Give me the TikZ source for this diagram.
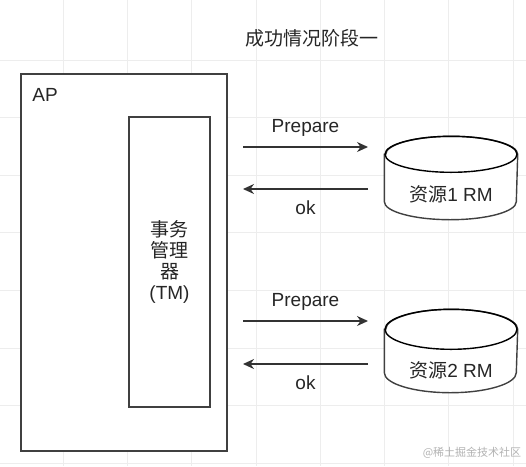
\documentclass[tikz,border=0pt]{standalone}
\usepackage{fontspec}
\setmainfont{Liberation Sans}
\newfontfamily\cjk{Noto Sans CJK SC}
\usetikzlibrary{arrows.meta,positioning}

\begin{document}
\begin{tikzpicture}[x=1pt, y=-1pt, line width=1.4pt,
    every node/.style={font=\fontsize{19}{21}\selectfont, text=black!85},
    box/.style={rectangle, draw=black!75, fill=white, inner sep=0pt},
    dbspace/.style={rectangle, minimum width=132pt, minimum height=82pt, inner sep=0pt},
    drum/.style={draw=black!75, fill=white},
    msg/.style={-{Stealth[length=11pt,width=10pt]}, black!80}]

   \useasboundingbox (0,0) rectangle (526,466);
   % faint canvas grid
   \foreach \gx in {63,127.3,...,514} \draw[black!7, line width=0.8pt] (\gx,0) -- (\gx,466);
   \foreach \gy in {60,117.6,...,464} \draw[black!7, line width=0.8pt] (0,\gy) -- (526,\gy);

   \node (title) at (312,38) {\cjk 成功情况阶段一};

   \node[box, minimum width=206pt, minimum height=377pt] (ap) at (124,262.5) {};
   \node[anchor=north west] (ap_name) at ([shift={(8,11)}]ap.north west) {AP};
   \node[box, minimum width=81pt, minimum height=290pt, align=center] (tm) at (169.5,262)
        {{\cjk 事务}\\{\cjk 管理}\\{\cjk 器}\\(TM)};

   % resource managers as drums
   \node[dbspace] (rm1) at (451,178) {};
   \node[dbspace] (rm2) at (451,351) {};
   \foreach \db/\ry in {rm1/18, rm2/20} {
     \filldraw[drum] ([yshift=-\ry pt]\db.north west) -- ([yshift=\ry pt]\db.south west)
        arc[start angle=180, end angle=360, x radius=66pt, y radius=\ry pt]
        -- ([yshift=-\ry pt]\db.north east)
        arc[start angle=0, end angle=180, x radius=66pt, y radius=\ry pt] -- cycle;
     \draw ([yshift=-\ry pt]\db.north) ellipse [x radius=66pt, y radius=\ry pt];
   }
   \node (rm1_text) at ([yshift=25pt]rm1.south) {{\cjk 资源}1 RM};
   \node (rm2_text) at ([yshift=22pt]rm2.south) {{\cjk 资源}2 RM};

   \coordinate (prep1_from) at (243,147);
   \coordinate (prep1_to)   at (368,147);
   \coordinate (ok1_from)   at (368,189);
   \coordinate (ok1_to)     at (243,189);
   \coordinate (prep2_from) at (243,321);
   \coordinate (prep2_to)   at (368,321);
   \coordinate (ok2_from)   at (368,364);
   \coordinate (ok2_to)     at (243,364);

   % messages between TM and the RMs
   \path[msg]
    (prep1_from) edge node[above=7pt] {Prepare} (prep1_to)
    (ok1_from)   edge node[below=8pt] {ok} (ok1_to)
    (prep2_from) edge node[above=7pt] {Prepare} (prep2_to)
    (ok2_from)   edge node[below=8pt] {ok} (ok2_to);

   \node[font=\cjk\fontsize{11}{13}\selectfont, text=black!30] (mark) at (472,453) {@稀土掘金技术社区};

\end{tikzpicture}
\end{document}
